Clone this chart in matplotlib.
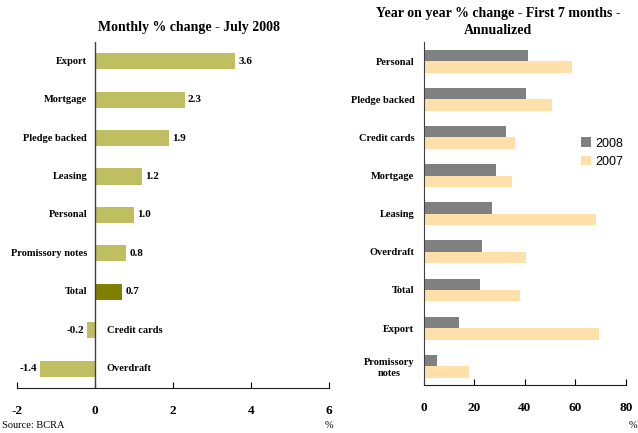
import matplotlib.pyplot as plt
import numpy as np

plt.rcParams['font.family'] = ['Liberation Serif', 'DejaVu Serif']
plt.rcParams['axes.unicode_minus'] = False

# left chart: monthly % change - July 2008
monthly_cats = ["Export", "Mortgage", "Pledge backed", "Leasing", "Personal",
                "Promissory notes", "Total", "Credit cards", "Overdraft"]
monthly_vals = [3.6, 2.3, 1.9, 1.2, 1.0, 0.8, 0.7, -0.2, -1.4]

# right chart: year on year % change, first 7 months annualized
yoy_cats = ["Personal", "Pledge backed", "Credit cards", "Mortgage", "Leasing",
            "Overdraft", "Total", "Export", "Promissory\nnotes"]
yoy_2008 = [41.2, 40.3, 32.3, 28.4, 26.8, 22.8, 22.3, 14.0, 5.1]
yoy_2007 = [58.5, 50.6, 35.9, 34.7, 68.1, 40.6, 38.2, 69.4, 17.8]

olive = "#bfbf62"
olive_dark = "#808000"
gray = "#808080"
peach = "#ffdfaa"

fig = plt.figure(figsize=(6.38, 4.33), dpi=100)

# ---- left panel
ax1 = fig.add_axes([0.0266, 0.104, 0.489, 0.799])
y = np.arange(len(monthly_cats))
colors = [olive_dark if c == "Total" else olive for c in monthly_cats]
ax1.barh(y, monthly_vals, height=0.42, color=colors)
ax1.set_xlim(-2, 6)
ax1.set_ylim(len(monthly_cats) - 0.5, -0.5)
ax1.axvline(0, color="#404040", lw=1.0)
for yi, c, v in zip(y, monthly_cats, monthly_vals):
    if v >= 0:
        ax1.text(-0.2, yi, c, ha="right", va="center", fontsize=7.5, fontweight="bold")
        ax1.text(v + 0.08, yi, f"{v:.1f}", ha="left", va="center", fontsize=8, fontweight="bold")
    else:
        ax1.text(0.3, yi, c, ha="left", va="center", fontsize=7.5, fontweight="bold")
        ax1.text(v - 0.08, yi, f"{v:.1f}", ha="right", va="center", fontsize=8, fontweight="bold")
ax1.set_xticks([-2, 0, 2, 4, 6])
ax1.set_yticks([])
fig.text(189 / 638, 1 - 28 / 433, "Monthly % change - July 2008", fontsize=10,
         fontweight="bold", ha="center", va="center")

# ---- right panel
ax2 = fig.add_axes([0.6646, 0.11, 0.3165, 0.793])
y2 = np.arange(len(yoy_cats))
ax2.barh(y2 - 0.15, yoy_2008, height=0.3, color=gray, label="2008")
ax2.barh(y2 + 0.15, yoy_2007, height=0.3, color=peach, label="2007")
ax2.set_xlim(0, 80)
ax2.set_ylim(len(yoy_cats) - 0.5, -0.5)
ax2.set_yticks(y2)
ax2.set_yticklabels(yoy_cats, fontsize=7.5, fontweight="bold", ha="right",
                    multialignment="center")
ax2.tick_params(axis="y", length=0, pad=7)
ax2.set_xticks([0, 20, 40, 60, 80])
fig.text(498 / 638, 1 - 22 / 433, "Year on year % change - First 7 months -\nAnnualized",
         fontsize=10, fontweight="bold", ha="center", va="center", linespacing=1.45)
ax2.legend(loc="upper left", bbox_to_anchor=(0.72, 0.755), frameon=False,
           prop={"family": "Liberation Sans", "size": 9},
           handlelength=0.8, handleheight=0.8, handletextpad=0.4, labelspacing=0.5)
ax2.spines["left"].set_color("#404040")

for ax in (ax1, ax2):
    for s in ("top", "right"):
        ax.spines[s].set_visible(False)
    if ax is ax1:
        ax.spines["left"].set_visible(False)
    ax.spines["bottom"].set_color("#202020")
    ax.tick_params(axis="x", direction="in", length=4, pad=12, labelsize=9.5)
    for lbl in ax.get_xticklabels():
        lbl.set_fontweight("bold")

fig.text(0.003, 0.012, "Source: BCRA", fontsize=7.5)
fig.text(0.515, 0.012, "%", fontsize=7.5, ha="center")
fig.text(0.999, 0.012, "%", fontsize=7.5, ha="right")

fig.savefig("out.png", dpi=100)
